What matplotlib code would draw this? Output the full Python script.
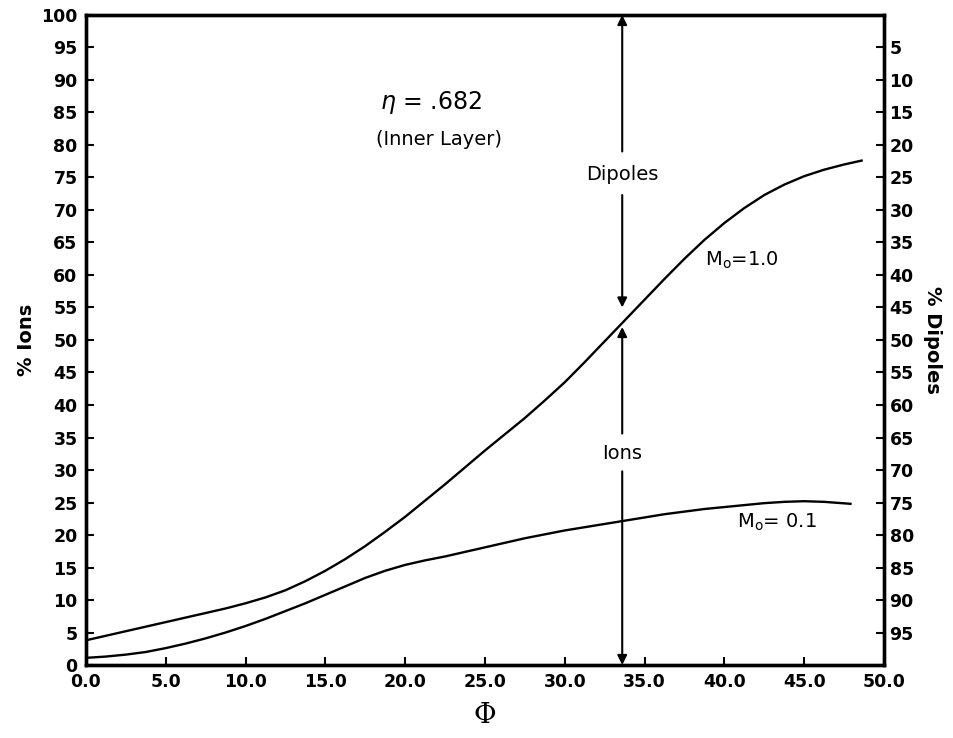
import matplotlib
matplotlib.use("Agg")
import matplotlib.pyplot as plt

# Data
phi = [0, 1.25, 2.5, 3.75, 5, 6.25, 7.5, 8.75, 10, 11.25, 12.5, 13.75, 15,
       16.25, 17.5, 18.75, 20, 21.25, 22.5, 23.75, 25, 26.25, 27.5, 28.75, 30,
       31.25, 32.5, 33.75, 35, 36.25, 37.5, 38.75, 40, 41.25, 42.5, 43.75, 45,
       46.25, 47.5, 48.6]
ions_m10 = [3.8, 4.5, 5.2, 5.9, 6.6, 7.3, 8.0, 8.7, 9.5, 10.4, 11.5, 12.9, 14.5,
            16.3, 18.3, 20.5, 22.8, 25.3, 27.8, 30.4, 33.0, 35.5, 38.0, 40.7,
            43.5, 46.6, 49.8, 53.0, 56.2, 59.4, 62.5, 65.4, 68.0, 70.3, 72.3,
            73.9, 75.2, 76.2, 77.0, 77.6]
phi_low = [0, 1.25, 2.5, 3.75, 5, 6.25, 7.5, 8.75, 10, 11.25, 12.5, 13.75, 15,
           16.25, 17.5, 18.75, 20, 21.25, 22.5, 23.75, 25, 26.25, 27.5, 28.75,
           30, 31.25, 32.5, 33.75, 35, 36.25, 37.5, 38.75, 40, 41.25, 42.5,
           43.75, 45, 46.25, 47.9]
ions_m01 = [1.1, 1.3, 1.6, 2.0, 2.6, 3.3, 4.1, 5.0, 6.0, 7.1, 8.3, 9.5, 10.8,
            12.1, 13.4, 14.5, 15.4, 16.1, 16.7, 17.4, 18.1, 18.8, 19.5, 20.1,
            20.7, 21.2, 21.7, 22.2, 22.7, 23.2, 23.6, 24.0, 24.3, 24.6, 24.9,
            25.1, 25.2, 25.1, 24.8]

x_ticks = [0, 5, 10, 15, 20, 25, 30, 35, 40, 45, 50]
x_ticklabels = ["0.0", "5.0", "10.0", "15.0", "20.0", "25.0", "30.0", "35.0",
                "40.0", "45.0", "50.0"]
y_ticks = list(range(0, 101, 5))
dip_ticks = list(range(5, 96, 5))

marker_x = 33.6

plt.rcParams['font.family'] = ['DejaVu Sans']
fig = plt.figure(figsize=(9.54, 7.38), dpi=100)
ax = fig.add_axes([0.0901, 0.0989, 0.8365, 0.8808])

ax.plot(phi, ions_m10, color='black', lw=1.7)
ax.plot(phi_low, ions_m01, color='black', lw=1.7)

ax.set_xlim(0, 50)
ax.set_ylim(0, 100)
ax.set_xticks(x_ticks)
ax.set_xticklabels(x_ticklabels)
ax.set_yticks(y_ticks)
ax.set_yticklabels([str(v) for v in y_ticks])
ax.tick_params(direction='in', length=6, width=1.5, labelsize=12.5)
ax.tick_params(axis='x', pad=6)
ax.tick_params(axis='y', pad=6)
for lab in ax.get_xticklabels() + ax.get_yticklabels():
    lab.set_fontweight('bold')
for s in ax.spines.values():
    s.set_linewidth(2.4)

ax2 = ax.twinx()
ax2.set_ylim(100, 0)
ax2.set_yticks(dip_ticks)
ax2.set_yticklabels([str(v) for v in dip_ticks])
ax2.tick_params(direction='in', length=6, width=1.5, labelsize=12.5, pad=4)
for lab in ax2.get_yticklabels():
    lab.set_fontweight('bold')
for s in ax2.spines.values():
    s.set_linewidth(2.4)

ax.set_ylabel('% Ions', fontsize=14, fontweight='bold', labelpad=4)
ax2.set_ylabel('% Dipoles', fontsize=14, fontweight='bold', rotation=270,
               labelpad=20)
ax.set_xlabel('Φ', fontsize=20, family='DejaVu Serif', labelpad=8)

# annotations
ax.text(21.6, 86.6, r'$\eta$ = .682', fontsize=17, ha='center', va='center')
ax.text(22.1, 80.9, '(Inner Layer)', fontsize=14, ha='center', va='center')
ax.text(marker_x, 75.5, 'Dipoles', fontsize=14, ha='center', va='center')
ax.text(marker_x, 32.6, 'Ions', fontsize=14, ha='center', va='center')
ax.text(38.8, 62.3, r'M$_\mathsf{o}$=1.0', fontsize=14, ha='left', va='center')
ax.text(40.8, 22.0, r'M$_\mathsf{o}$= 0.1', fontsize=14, ha='left', va='center')

ap = dict(arrowstyle='-|>', color='black', lw=1.5, mutation_scale=14,
          shrinkA=0, shrinkB=0)
ax.annotate('', xy=(marker_x, 100), xytext=(marker_x, 79), arrowprops=ap)
ax.annotate('', xy=(marker_x, 55.0), xytext=(marker_x, 72.3), arrowprops=ap)
ax.annotate('', xy=(marker_x, 52.0), xytext=(marker_x, 35.6), arrowprops=ap)
ax.annotate('', xy=(marker_x, 0), xytext=(marker_x, 29.8), arrowprops=ap)

fig.savefig('out.png', dpi=100)
